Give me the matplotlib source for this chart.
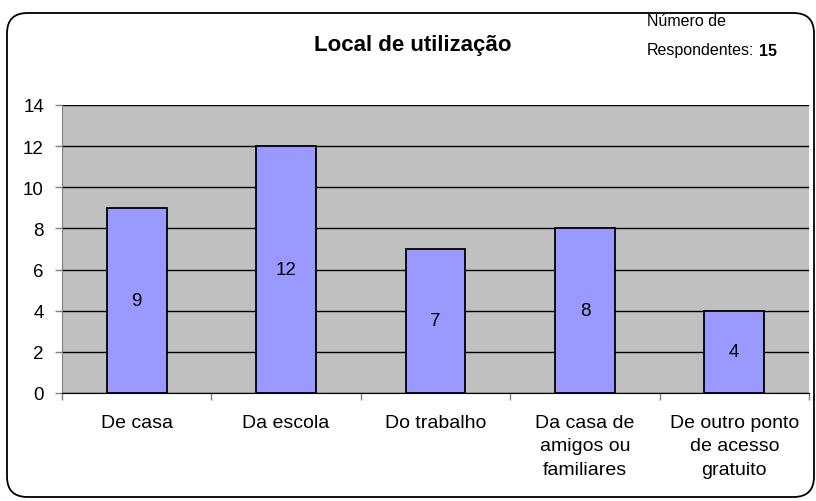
import matplotlib
matplotlib.use("Agg")
import matplotlib.pyplot as plt
from matplotlib.patches import FancyBboxPatch
import numpy as np

categories = [
    "De casa",
    "Da escola",
    "Do trabalho",
    "Da casa de\namigos ou\nfamiliares",
    "De outro ponto\nde acesso\ngratuito",
]
counts = [9, 12, 7, 8, 4]
y_ticks = [0, 2, 4, 6, 8, 10, 12, 14]
title = "Local de utilização"
respondents = 15

plt.rcParams["font.family"] = ["Liberation Sans", "DejaVu Sans"]

fig = plt.figure(figsize=(8.16, 5.02), dpi=100, facecolor="white")
ax = fig.add_axes([62 / 816, 1 - 394 / 502, (809 - 62) / 816, (394 - 106) / 502])

# outer rounded frame
frame = FancyBboxPatch(
    (7 / 816, 4 / 502), (807 / 816), (484 / 502),
    boxstyle="round,pad=0,rounding_size=0.025",
    transform=fig.transFigure, facecolor="none", edgecolor="black",
    linewidth=1.3, mutation_aspect=816 / 502, zorder=0,
)
fig.patches.append(frame)

ax.set_facecolor("#C0C0C0")
x = np.arange(len(categories))
bars = ax.bar(x, counts, width=0.4, color="#9999FF", edgecolor="black",
              linewidth=1.3, zorder=3)
for xi, v in zip(x, counts):
    ax.text(xi, v / 2, str(v), ha="center", va="center", fontsize=13.5, zorder=4)

ax.set_ylim(0, 14)
ax.set_xlim(-0.5, len(categories) - 0.5)
ax.set_yticks(y_ticks)
ax.yaxis.grid(True, color="black", linewidth=1.0, zorder=1)
ax.set_axisbelow(True)
ax.tick_params(axis="y", labelsize=13.5, length=5, width=1, color="#808080", pad=8)

ax.set_xticks(x)
ax.set_xticklabels(categories, fontsize=14, linespacing=1.5)
ax.set_xticks(np.arange(len(categories) + 1) - 0.5, minor=True)
ax.tick_params(axis="x", which="major", length=0, pad=15)
ax.tick_params(axis="x", which="minor", length=5, width=1, color="#808080")

for side in ["top", "right"]:
    ax.spines[side].set_visible(False)
ax.spines["left"].set_color("#808080")
ax.spines["bottom"].set_color("black")

fig.text(413 / 816, 1 - 45 / 502, title, ha="center", va="center",
         fontsize=16, fontweight="bold")
fig.text(647 / 816, 1 - 22 / 502, "Número de", ha="left", va="center", fontsize=11.5)
resp = fig.text(647 / 816, 1 - 51 / 502, "Respondentes:", ha="left", va="center",
                fontsize=11.5)
fig.canvas.draw()
bb = resp.get_window_extent()
fig.text((bb.x1 + 4) / 816, 1 - 51 / 502, str(respondents), ha="left", va="center",
         fontsize=11.5, fontweight="bold")

fig.savefig("out.png", dpi=100)
